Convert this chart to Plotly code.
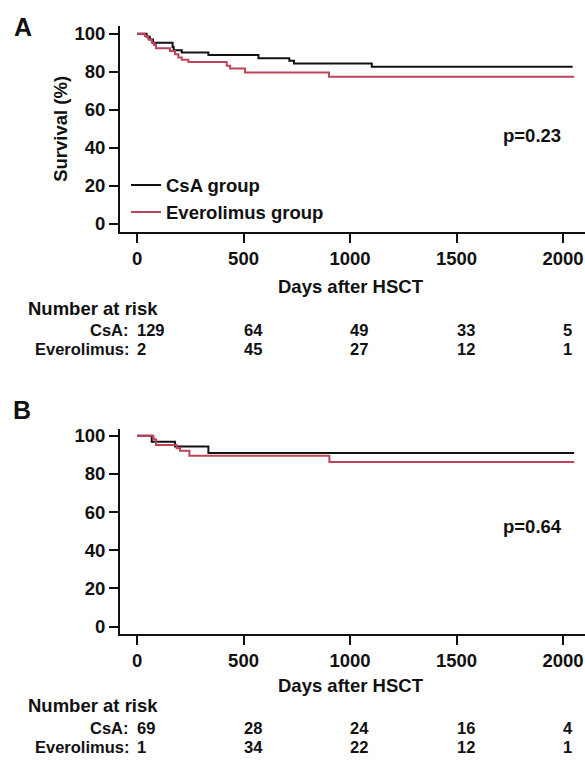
import plotly.graph_objects as go

W, H = 585, 760
FONT = "Liberation Sans, Arial, Helvetica, sans-serif"
FS = 18.5
FS_RISK = 16.5
BLACK = "#111111"
RED = "#BF4458"

# ---------------- data ----------------
# Panel A
a_csa_days = [0, 45, 60, 75, 167, 172, 210, 335, 570, 715, 737, 1102, 2045]
a_csa_surv = [100, 98.4, 97.0, 95.3, 93.0, 91.3, 90.1, 88.9, 87.1, 85.8, 84.4, 82.7, 82.7]
a_eve_days = [0, 37, 53, 69, 80, 89, 155, 178, 194, 210, 241, 421, 437, 507, 901, 2052]
a_eve_surv = [100, 98.8, 97.0, 95.3, 94.1, 92.4, 91.0, 89.2, 87.5, 86.3, 85.2, 83.2, 81.8, 79.7, 77.4, 77.4]
# Panel B
b_csa_days = [0, 69, 178, 335, 2052]
b_csa_surv = [100, 96.9, 94.3, 90.9, 90.9]
b_eve_days = [0, 77, 89, 186, 202, 246, 903, 2052]
b_eve_surv = [100, 98.1, 95.2, 93.5, 92.1, 89.5, 86.2, 86.2]

x_ticks = [0, 500, 1000, 1500, 2000]
y_ticks = [0, 20, 40, 60, 80, 100]
risk_times = [0, 500, 1000, 1500, 2000]
a_risk_csa = [129, 64, 49, 33, 5]
a_risk_eve = [2, 45, 27, 12, 1]
b_risk_csa = [69, 28, 24, 16, 4]
b_risk_eve = [1, 34, 22, 12, 1]
p_values = ["p=0.23", "p=0.64"]
group_names = ["CsA group", "Everolimus group"]
risk_labels = ["CsA:", "Everolimus:"]


def px(x):
    return x / W


def py(y):
    return 1 - y / H


fig = go.Figure()
fig.add_trace(go.Scatter(x=a_csa_days, y=a_csa_surv, mode="lines", line_shape="hv",
                         line=dict(color=BLACK, width=2), name=group_names[0],
                         xaxis="x", yaxis="y", showlegend=True))
fig.add_trace(go.Scatter(x=a_eve_days, y=a_eve_surv, mode="lines", line_shape="hv",
                         line=dict(color=RED, width=2), name=group_names[1],
                         xaxis="x", yaxis="y", showlegend=True))
fig.add_trace(go.Scatter(x=b_csa_days, y=b_csa_surv, mode="lines", line_shape="hv",
                         line=dict(color=BLACK, width=2), name=group_names[0],
                         xaxis="x2", yaxis="y2", showlegend=False))
fig.add_trace(go.Scatter(x=b_eve_days, y=b_eve_surv, mode="lines", line_shape="hv",
                         line=dict(color=RED, width=2), name=group_names[1],
                         xaxis="x2", yaxis="y2", showlegend=False))

axis_common = dict(showline=True, linewidth=2, linecolor=BLACK, ticks="outside",
                   ticklen=9, tickwidth=2, tickcolor=BLACK, showgrid=False,
                   zeroline=False, tickfont=dict(family=FONT, size=FS, color=BLACK, weight="bold"))

fig.update_layout(
    width=W, height=H,
    margin=dict(l=0, r=0, t=0, b=0),
    paper_bgcolor="white", plot_bgcolor="white",
    font=dict(family=FONT, size=FS, color=BLACK, weight="bold"),
    xaxis=dict(domain=[px(120), 1], range=[-80, 2103], tickvals=x_ticks, anchor="y", **axis_common),
    yaxis=dict(domain=[py(230), py(22)], range=[-4.2, 104.2], tickvals=y_ticks, anchor="x", **axis_common),
    xaxis2=dict(domain=[px(120), 1], range=[-80, 2103], tickvals=x_ticks, anchor="y2", **axis_common),
    yaxis2=dict(domain=[py(636), py(429)], range=[-4.0, 103.5], tickvals=y_ticks, anchor="x2", **axis_common),
    legend=dict(x=px(126), y=py(164), xanchor="left", yanchor="top",
                bgcolor="rgba(0,0,0,0)", borderwidth=0,
                font=dict(family=FONT, size=FS, color=BLACK, weight="bold"),
                itemwidth=30),
)

ann = []


def text(t, x, y, anchor="center", size=FS, xref="paper", xshift=0):
    ann.append(dict(text=t, x=x, y=y, xref=xref, yref="paper", xanchor=anchor,
                    yanchor="middle", showarrow=False, xshift=xshift,
                    font=dict(family=FONT, size=size, color=BLACK, weight="bold")))


# panel letters
text("A", px(23), py(23.5), size=25)
text("B", px(22), py(410), size=25)
# y title
ann.append(dict(text="Survival (%)", x=px(61), y=py(126), xref="paper", yref="paper",
                textangle=-90, showarrow=False, xanchor="center", yanchor="middle",
                font=dict(family=FONT, size=FS, color=BLACK, weight="bold")))
# x titles
text("Days after HSCT", px(351), py(285))
text("Days after HSCT", px(351), py(688))
# p-values
text(p_values[0], px(532), py(133))
text(p_values[1], px(532), py(527))

# risk tables
for (xr, rows_y, head_y, csa, eve) in [("x", (329.5, 348), 307, a_risk_csa, a_risk_eve),
                                       ("x2", (731, 749.5), 708, b_risk_csa, b_risk_eve)]:
    text("Number at risk", px(26), py(head_y), anchor="left")
    text(risk_labels[0], px(131), py(rows_y[0]), anchor="right", size=FS_RISK)
    text(risk_labels[1], px(131), py(rows_y[1]), anchor="right", size=FS_RISK)
    for t, n1, n2 in zip(risk_times, csa, eve):
        text(str(n1), t, py(rows_y[0]), anchor="left", xref=xr, xshift=-2, size=FS_RISK)
        text(str(n2), t, py(rows_y[1]), anchor="left", xref=xr, xshift=-2, size=FS_RISK)

fig.update_layout(annotations=ann)
fig.write_html("out.html")
